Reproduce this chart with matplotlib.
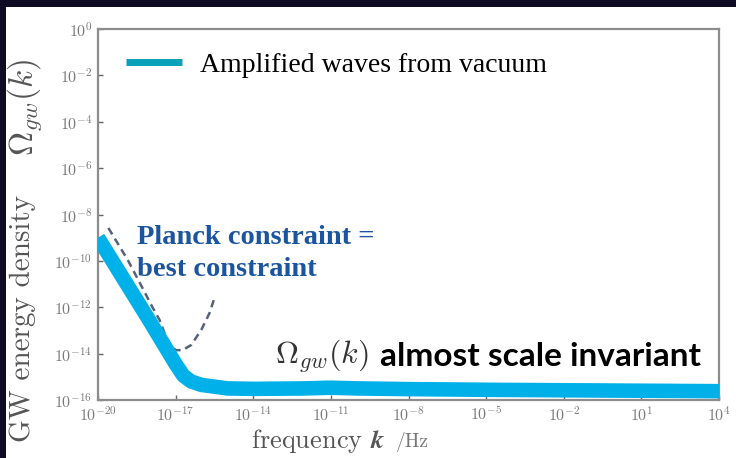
import matplotlib
matplotlib.use("Agg")
import matplotlib.pyplot as plt
import numpy as np
from matplotlib.patches import Rectangle

plt.rcParams['mathtext.fontset'] = 'cm'
plt.rcParams['axes.unicode_minus'] = False

# Amplified gravitational waves from vacuum (log10 values)
log_k = [-20, -19, -18, -17, -16.7, -16.4, -16, -15, -14, -12, -11, -10,
         -8, -5, -2, 1, 4]
log_omega = [-9.0, -10.8, -12.6, -14.45, -14.95, -15.2, -15.35, -15.5, -15.52,
             -15.5, -15.47, -15.5, -15.53, -15.56, -15.58, -15.6, -15.62]

# Planck constraint (dashed)
planck_log_k = [-19.6, -18.85, -18.3, -17.9, -17.62, -17.4, -17.2, -17.0,
                -16.73, -16.4, -16.01, -15.69, -15.5]
planck_log_omega = [-8.58, -9.96, -11.13, -11.99, -12.55, -13.2, -13.63, -13.85,
                    -13.85, -13.63, -12.98, -12.25, -11.6]

x_ticks = [-20, -17, -14, -11, -8, -5, -2, 1, 4]
y_ticks = [0, -2, -4, -6, -8, -10, -12, -14, -16]

W, H = 736, 458
fig = plt.figure(figsize=(W / 100, H / 100), dpi=100, facecolor='#0e0b22')

# white slide area
fig.patches.append(Rectangle((6 / W, 0), 1, 451 / H, transform=fig.transFigure,
                             facecolor='white', edgecolor='none', zorder=-5))

ax = fig.add_axes([98 / W, 1 - 400 / H, 621 / W, 371 / H])
ax.set_facecolor('white')

k = 10.0 ** np.array(log_k)
omega = 10.0 ** np.array(log_omega)
ax.plot(10.0 ** np.array(planck_log_k), 10.0 ** np.array(planck_log_omega),
        color='#56627a', lw=1.8, ls=(0, (3, 2)), zorder=2)
ax.plot(k, omega, color='#00b0e8', lw=10.5, solid_capstyle='butt',
        solid_joinstyle='round', label='Amplified waves from vacuum', zorder=3)

ax.set_xscale('log')
ax.set_yscale('log')
ax.set_xlim(1e-20, 1e4)
ax.set_ylim(1e-16, 1e0)
ax.set_xticks([10.0 ** t for t in x_ticks])
ax.set_xticklabels([f'$10^{{{t}}}$' for t in x_ticks])
ax.set_yticks([10.0 ** t for t in y_ticks])
ax.set_yticklabels([f'$10^{{{t}}}$' for t in y_ticks])
ax.minorticks_off()
ax.tick_params(direction='in', length=3.5, width=1, color='#666666',
               labelcolor='#7a7a7a', labelsize=11.5, pad=4)

for s in ax.spines.values():
    s.set_color('#8c8c8c')
    s.set_linewidth(1.6)

leg = ax.legend(loc='center left', bbox_to_anchor=(0.045, 0.903), frameon=False,
                borderpad=0, borderaxespad=0, handlelength=2.0, handletextpad=0.65,
                prop={'family': 'Liberation Serif', 'size': 20})
leg.get_lines()[0].set_color('#0aa0b8')
leg.get_lines()[0].set_linewidth(5)

# axis labels
fig.text(23 / W, 1 - 318 / H, 'GW energy density', rotation=90, ha='center', va='center',
         family='cmr10', fontsize=21, color='#555555')
fig.text(25 / W, 1 - 107 / H, r'$\Omega_{gw}(k)$', rotation=90, ha='center', va='center',
         fontsize=24, color='#555555')
fig.text(251 / W, 1 - 441 / H, r'frequency $\boldsymbol{k}$', ha='left', va='center',
         family='cmr10', fontsize=19, color='#555555')
fig.text(396 / W, 1 - 442 / H, '/Hz', ha='left', va='center',
         family='cmr10', fontsize=14, color='#777777')

# annotations
ax.text(137 / W, 1 - 238 / H, 'Planck constraint =', transform=fig.transFigure,
        ha='left', va='center', family='Liberation Serif', fontweight='bold',
        fontsize=20.5, color='#1b55a0')
ax.text(137 / W, 1 - 270 / H, 'best constraint', transform=fig.transFigure,
        ha='left', va='center', family='Liberation Serif', fontweight='bold',
        fontsize=20.5, color='#1b55a0')
ax.text(275 / W, 1 - 356 / H, r'$\Omega_{gw}(k)$', transform=fig.transFigure,
        ha='left', va='center', fontsize=23, color='#333333')
ax.text(380 / W, 1 - 356 / H, 'almost scale invariant', transform=fig.transFigure,
        ha='left', va='center', family='Lato', fontweight='bold',
        fontsize=24, color='black')

fig.savefig('out.png', dpi=100, facecolor=fig.get_facecolor())
